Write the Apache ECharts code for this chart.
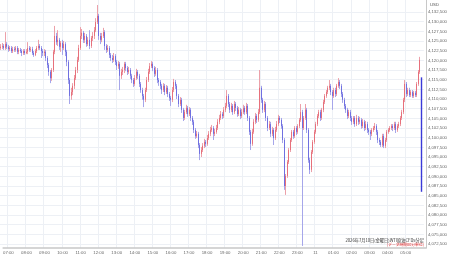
<!DOCTYPE html>
<html><head><meta charset="utf-8">
<script src="https://cdn.jsdelivr.net/npm/echarts@6/dist/echarts.min.js"></script>
<style>html,body{margin:0;padding:0;background:#fff}#c{width:450px;height:258px}</style>
</head><body><div id="c"></div>
<script>
// 5-minute candles, 2026-07-10 06:45 -> 2026-07-11 06:05 (axis), data until 05:55
const startMinutes = 6 * 60 + 45;
const categoryCount = 281;
const tickTimes  = ['07:00','08:00','09:00','10:00','11:00','12:00','13:00','14:00','15:00','16:00','17:00','18:00','19:00','20:00','21:00','22:00','23:00','00:00','01:00','02:00','03:00','04:00','05:00'];
const tickLabels = ['07:00','08:00','09:00','10:00','11:00','12:00','13:00','14:00','15:00','16:00','17:00','18:00','19:00','20:00','21:00','22:00','23:00','11','01:00','02:00','03:00','04:00','05:00'];
const yMin = 4072500, yMax = 4132500, yStep = 2500;

const opens = [4123200,
4123500,4123700,4123200,4124200,4123500,4122900,4123200,4122400,4122900,4122700,
4123200,4122200,4122700,4122400,4121900,4122400,4121900,4122200,4123200,4122700,
4122900,4121900,4121400,4122400,4123200,4123700,4123200,4122400,4121900,4122200,
4120600,4118800,4117000,4115400,4117500,4122200,4126300,4124700,4125300,4123500,
4124500,4123200,4124200,4122200,4119600,4114900,4110800,4111800,4113400,4115400,
4117500,4120100,4123200,4126300,4127100,4125300,4126300,4124200,4125300,4123700,
4125800,4126300,4127800,4129900,4131500,4126300,4125300,4126300,4127300,4123700,
4122700,4123200,4121400,4120600,4120100,4121100,4119600,4118500,4119100,4116000,
4117000,4117500,4119100,4118000,4117000,4117500,4116000,4114900,4113900,4115400,
4117000,4116000,4113900,4112300,4110800,4109800,4112300,4114900,4117000,4118500,
4119100,4118000,4116500,4117500,4114900,4114400,4113400,4112300,4113400,4111800,
4112900,4111300,4110300,4109800,4112300,4114400,4113400,4110800,4108700,4109800,
4107200,4105100,4106600,4107700,4106100,4107200,4105100,4104100,4102000,4100400,
4101000,4098100,4095800,4096800,4097900,4098900,4098400,4099900,4101000,4102000,
4102500,4101000,4101500,4102500,4104100,4105100,4106100,4105600,4107200,4108200,
4110800,4108700,4107200,4108200,4106600,4108700,4107700,4106100,4107200,4105600,
4106600,4107700,4106600,4108200,4105100,4101500,4098400,4101500,4104100,4105600,
4104600,4106600,4112900,4109800,4107200,4108700,4105100,4102500,4103500,4101000,
4102000,4099900,4102000,4103500,4105100,4104600,4103000,4099400,4087500,4090100,
4093700,4096800,4099400,4101500,4100400,4102500,4101500,4103000,4104600,4106600,
4102500,4105100,4107200,4102000,4094200,4091700,4096300,4098900,4101500,4103500,
4105600,4106600,4105100,4107200,4109200,4110800,4111800,4112900,4113400,4111800,
4110800,4112300,4111300,4113400,4114400,4113400,4111300,4109800,4108200,4107200,
4105600,4106600,4105100,4104100,4105100,4103500,4105100,4104100,4104600,4103000,
4104100,4102500,4103500,4102000,4101500,4101000,4102000,4102500,4103000,4101500,
4099400,4098900,4098100,4100400,4097900,4099400,4101500,4102000,4102500,4103000,
4102500,4103500,4102000,4103000,4103500,4105100,4106600,4109800,4113900,4111300,
4112300,4111000,4111800,4110800,4111600,4111000,4113900,4117000];

const closes = [
4123500,4123700,4123200,4124200,4123500,4122900,4123200,4122400,4122900,4122700,
4123200,4122200,4122700,4122400,4121900,4122400,4121900,4122200,4123200,4122700,
4122900,4121900,4121400,4122400,4123200,4123700,4123200,4122400,4121900,4122200,
4120600,4118800,4117000,4115400,4117500,4122200,4126300,4124700,4125300,4123500,
4124500,4123200,4124200,4122200,4119600,4114900,4110800,4111800,4113400,4115400,
4117500,4120100,4123200,4126300,4127100,4125300,4126300,4124200,4125300,4123700,
4125800,4126300,4127800,4129900,4131500,4126300,4125300,4126300,4127300,4123700,
4122700,4123200,4121400,4120600,4120100,4121100,4119600,4118500,4119100,4116000,
4117000,4117500,4119100,4118000,4117000,4117500,4116000,4114900,4113900,4115400,
4117000,4116000,4113900,4112300,4110800,4109800,4112300,4114900,4117000,4118500,
4119100,4118000,4116500,4117500,4114900,4114400,4113400,4112300,4113400,4111800,
4112900,4111300,4110300,4109800,4112300,4114400,4113400,4110800,4108700,4109800,
4107200,4105100,4106600,4107700,4106100,4107200,4105100,4104100,4102000,4100400,
4101000,4098100,4095800,4096800,4097900,4098900,4098400,4099900,4101000,4102000,
4102500,4101000,4101500,4102500,4104100,4105100,4106100,4105600,4107200,4108200,
4110800,4108700,4107200,4108200,4106600,4108700,4107700,4106100,4107200,4105600,
4106600,4107700,4106600,4108200,4105100,4101500,4098400,4101500,4104100,4105600,
4104600,4106600,4112900,4109800,4107200,4108700,4105100,4102500,4103500,4101000,
4102000,4099900,4102000,4103500,4105100,4104600,4103000,4099400,4087500,4090100,
4093700,4096800,4099400,4101500,4100400,4102500,4101500,4103000,4104600,4106600,
4102500,4105100,4107200,4102000,4094200,4091700,4096300,4098900,4101500,4103500,
4105600,4106600,4105100,4107200,4109200,4110800,4111800,4112900,4113400,4111800,
4110800,4112300,4111300,4113400,4114400,4113400,4111300,4109800,4108200,4107200,
4105600,4106600,4105100,4104100,4105100,4103500,4105100,4104100,4104600,4103000,
4104100,4102500,4103500,4102000,4101500,4101000,4102000,4102500,4103000,4101500,
4099400,4098900,4098100,4100400,4097900,4099400,4101500,4102000,4102500,4103000,
4102500,4103500,4102000,4103000,4103500,4105100,4106600,4109800,4113900,4111300,
4112300,4111000,4111800,4110800,4111600,4111000,4113900,4117000,4120100];

const highs = [
4124200,4124500,4124200,4127300,4124700,4124000,4123700,4123700,4123500,4123500,
4123700,4123700,4123200,4123200,4122900,4122900,4122900,4122900,4124700,4123700,
4123500,4123500,4122400,4122900,4123700,4125300,4124200,4123700,4122900,4122900,
4122700,4121100,4119300,4117500,4118000,4122700,4128900,4127100,4127800,4125800,
4125000,4125300,4125000,4124700,4122700,4120100,4115400,4112900,4114100,4116200,
4118300,4120900,4124000,4128600,4128100,4127600,4127100,4126800,4126000,4127800,
4126300,4127300,4128600,4130900,4134300,4132000,4127100,4127100,4128400,4127800,
4124200,4124000,4123700,4121900,4121400,4121900,4121600,4120100,4119800,4119600,
4117800,4118300,4119600,4119600,4118500,4118300,4118000,4116500,4115400,4116200,
4117800,4117500,4116500,4114400,4112900,4111300,4112900,4115700,4117800,4119300,
4119800,4119600,4118500,4118300,4118000,4115400,4114900,4113900,4114100,4113900,
4113600,4113400,4111800,4110800,4113100,4115200,4114900,4113900,4111300,4110500,
4110300,4107700,4107200,4108500,4108200,4107900,4107700,4105600,4104600,4102500,
4101700,4101500,4098600,4097600,4098600,4099700,4099400,4100700,4101700,4102800,
4103300,4103000,4102300,4103300,4104800,4105900,4106900,4106600,4107900,4109000,
4112300,4111300,4109200,4109000,4108700,4109500,4109200,4108200,4107900,4107700,
4107400,4108500,4108200,4109000,4108700,4105600,4102000,4102300,4104800,4106400,
4106100,4107400,4117500,4113400,4110300,4109500,4109200,4105600,4104300,4104100,
4102800,4102500,4102800,4104300,4105900,4105600,4105100,4103500,4099900,4090600,
4094200,4097300,4099900,4102000,4102000,4103000,4103000,4103500,4105100,4108700,
4107200,4105600,4108700,4107700,4102500,4094800,4096800,4099400,4102000,4104100,
4106100,4107200,4107200,4107700,4109800,4111300,4112300,4113400,4114900,4113900,
4112300,4112900,4112900,4113900,4115400,4114900,4113900,4111800,4110300,4108700,
4107700,4107200,4107200,4105600,4105600,4105600,4105900,4105600,4105400,4105100,
4104800,4104600,4104300,4104100,4102500,4102000,4102500,4103000,4103800,4103500,
4102000,4099900,4099400,4101000,4101000,4099900,4102000,4102500,4103000,4103500,
4103500,4104100,4104100,4103500,4104100,4105600,4107200,4110300,4114900,4114400,
4112900,4112900,4112300,4112300,4112100,4112100,4114400,4117500,4120900];

const lows = [
4122700,4122900,4122700,4122700,4122900,4122200,4122400,4121900,4121900,4122200,
4122200,4121600,4121600,4121900,4121100,4121400,4121400,4121600,4121600,4122200,
4122200,4121400,4120900,4121100,4121900,4122700,4122700,4120600,4121100,4121100,
4119800,4118000,4116000,4114100,4114700,4117000,4121600,4124000,4123700,4122700,
4122200,4121400,4122700,4121100,4118500,4113900,4108700,4109800,4111000,4112600,
4114900,4116700,4119600,4122700,4125500,4124500,4124500,4123500,4123700,4122900,
4123200,4125000,4125500,4127300,4129400,4125300,4124200,4124700,4125800,4122700,
4121900,4122200,4120600,4119800,4119300,4119600,4118800,4117500,4117800,4112300,
4115200,4116200,4116700,4117200,4116200,4116500,4115200,4114100,4113100,4113400,
4114900,4115200,4113100,4111600,4109800,4107900,4109200,4111800,4114400,4116500,
4118000,4117200,4115700,4116000,4114100,4113400,4112600,4111300,4111800,4111000,
4111300,4110500,4109500,4108200,4109200,4111800,4112600,4110000,4107900,4108200,
4106400,4104300,4104600,4106100,4105400,4105600,4104300,4103300,4101200,4099700,
4099900,4097300,4094200,4095000,4096300,4097300,4097600,4097900,4099400,4100400,
4101500,4099400,4100400,4101000,4102000,4103500,4104600,4104800,4105100,4106600,
4107700,4107900,4106400,4106600,4105900,4106100,4106900,4105400,4105600,4104800,
4105100,4106100,4105900,4106100,4104300,4100700,4096800,4097900,4101000,4103500,
4103800,4104100,4106100,4109000,4106400,4106600,4104300,4101700,4102000,4100200,
4100400,4098100,4099400,4101500,4103000,4103800,4102300,4098600,4086500,4085200,
4089600,4093200,4096300,4098900,4099700,4099900,4100700,4101000,4102500,4104100,
4072000,4102000,4104600,4101200,4093500,4090600,4091100,4095800,4098400,4101000,
4103000,4105100,4104300,4104600,4106600,4108700,4110300,4111300,4112300,4111000,
4107200,4110300,4110500,4110800,4112900,4112600,4110500,4109000,4107400,4106400,
4104800,4105100,4104300,4103300,4103500,4102800,4103000,4103300,4103500,4102300,
4102500,4101700,4102000,4101200,4100700,4099400,4100400,4101500,4102000,4100700,
4098600,4098100,4097600,4097600,4097300,4097300,4098900,4101000,4101500,4102000,
4101700,4102000,4101200,4101500,4102500,4103000,4104600,4106100,4109200,4110500,
4110800,4110500,4110500,4110300,4110300,4110500,4110500,4113400,4116500];

// vertical range marker drawn at the right edge
const markerTime = '06:00';
const markerTop = 4115600, markerBottom = 4086000;

const titleLine1 = '2026年7月10日(金曜日)WTI原油CFD5分足';
const titleLine2 = '(データ時間00分単位)';

const categories = [];
for (let k = 0; k < categoryCount; k++) {
  const m = (startMinutes + k * 5) % 1440;
  categories.push(String(Math.floor(m / 60)).padStart(2, '0') + ':' + String(m % 60).padStart(2, '0'));
}
const wickData = opens.map((o, i) => [o, closes[i], lows[i], highs[i]]);
const bodyData = opens.map((o, i) => [o, closes[i], Math.min(o, closes[i]), Math.max(o, closes[i])]);
const isTick = (idx, val) => tickTimes.indexOf(val) >= 0;

const chart = echarts.init(document.getElementById('c'), null, {renderer: 'canvas'});
const FONT = 'Liberation Sans';
const GRID_COLOR = '#edf0f5';
chart.setOption({
  animation: false,
  backgroundColor: '#ffffff',
  grid: [
    {left: 0, right: 24, top: 12, bottom: 14},
    {left: 0, right: 24, top: 0, bottom: 10}
  ],
  xAxis: [
    {gridIndex: 0, type: 'category', data: categories, show: false, boundaryGap: true},
    {gridIndex: 1, type: 'category', data: categories, boundaryGap: true,
      axisLine: {show: true, lineStyle: {color: '#c8c8c8', width: 1.5}},
      axisTick: {show: false},
      axisLabel: {interval: isTick, formatter: v => tickLabels[tickTimes.indexOf(v)], fontSize: 4.3, color: '#666', margin: 3, fontFamily: FONT, hideOverlap: false},
      splitLine: {show: true, interval: isTick, lineStyle: {color: GRID_COLOR, width: 1}}
    }
  ],
  yAxis: [
    {gridIndex: 0, type: 'value', position: 'right', min: yMin, max: yMax, interval: yStep,
      axisLine: {show: false}, axisTick: {show: false},
      axisLabel: {fontSize: 4.3, color: '#666', margin: 4, fontFamily: FONT,
        formatter: v => v.toLocaleString('en-US')},
      splitLine: {show: true, lineStyle: {color: GRID_COLOR, width: 1}}
    },
    {gridIndex: 1, type: 'value', position: 'right', min: 0, max: 1,
      axisLine: {show: true, lineStyle: {color: '#c8c8c8', width: 1}},
      axisTick: {show: false}, axisLabel: {show: false}, splitLine: {show: false}
    }
  ],
  series: [
    {type: 'candlestick', name: 'wick', xAxisIndex: 0, yAxisIndex: 0, data: wickData,
      clip: false, barWidth: 1.1,
      itemStyle: {color: '#eca0a9', color0: '#a6a6ea', borderColor: '#eca0a9', borderColor0: '#a6a6ea', borderWidth: 1}},
    {type: 'candlestick', name: 'body', xAxisIndex: 0, yAxisIndex: 0, data: bodyData,
      clip: false, barWidth: 1.3, z: 3,
      itemStyle: {color: '#e2404c', color0: '#3a3ad8', borderColor: '#e2404c', borderColor0: '#3a3ad8', borderWidth: 0.5},
      markLine: {silent: true, symbol: 'none', label: {show: false},
        lineStyle: {color: '#3a3ad8', width: 1.4, type: 'solid'},
        data: [[{coord: [markerTime, markerTop]}, {coord: [markerTime, markerBottom]}]]}
    }
  ],
  graphic: [
    {type: 'text', left: 430, top: 3, style: {text: 'USD', fontSize: 4.3, fill: '#555', fontFamily: FONT}},
    {type: 'text', x: 424, y: 240.5, style: {text: titleLine1, align: 'right', verticalAlign: 'middle', fontSize: 4.2, fill: '#333', fontFamily: 'Noto Sans CJK JP'}, z: 10},
    {type: 'text', x: 424, y: 245, style: {text: titleLine2, align: 'right', verticalAlign: 'middle', fontSize: 3.8, fill: '#e02828', fontFamily: 'Noto Sans CJK JP'}, z: 10}
  ]
});
</script></body></html>
